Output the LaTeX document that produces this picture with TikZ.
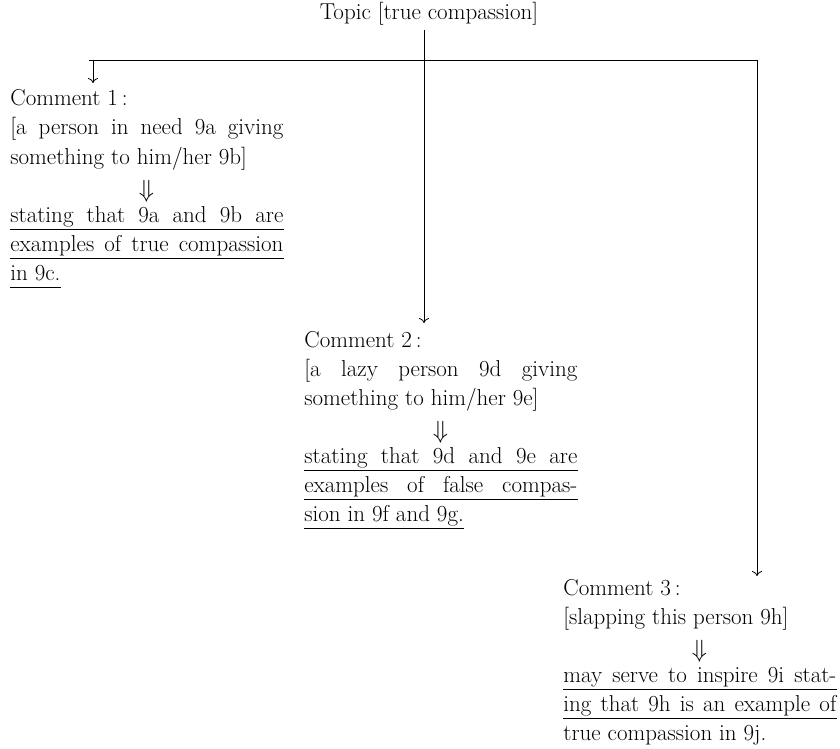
\documentclass[tikz,border=0pt]{standalone}
\usepackage{fontspec}
\usetikzlibrary{positioning,arrows.meta}

\newcommand{\bodysize}{\fontsize{23}{28}\selectfont}
\newlength{\colw}
\setlength{\colw}{273pt}
\newcommand{\jline}[1]{\makebox[\colw][s]{#1}}

\begin{document}
\begin{tikzpicture}[x=1pt, y=-1pt, line width=0.8pt, >={To[length=5pt,width=10pt]},
  txt/.style = {inner sep=0pt, anchor=base west, font=\bodysize, text height=16pt, text depth=6.5pt},
  row/.style = {txt, below=29pt of #1.base west, anchor=base west},
  gap/.style = {txt, below=58pt of #1.base west, anchor=base west},
  impl/.style = {txt, anchor=base}]

      \useasboundingbox (0,0) rectangle (840,749);

      \node[txt, anchor=base] (topic) at (429,20) {Topic [true compassion]};

      % bar and the three arrows
      \coordinate (hub) at (424,60);
      \coordinate (barL) at (89,60);
      \coordinate (barR) at (757,60);
      \coordinate (tip1) at (93,83);
      \coordinate (tip2) at (424,323);
      \coordinate (tip3) at (757,576);

      \draw ([yshift=-3pt]topic.south -| hub) -- (hub);
      \draw (barL) -- (barR);
      \draw[->] (tip1 |- hub) -- (tip1);
      \draw[->] (hub) -- (tip2);
      \draw[->] (barR) -- (tip3);

      % comment 1
      \node[txt] (C_1_a) at (10,106) {Comment 1\,:};
      \node[row=C_1_a] (C_1_b) {\jline{[a person in need 9a giving}};
      \node[row=C_1_b] (C_1_c) {something to him/her 9b]};
      \node[impl] (C_1_d) at ([xshift=136.5pt,yshift=-33pt]C_1_c.base west) {$\Downarrow$};
      \node[gap=C_1_c] (C_1_e) {\jline{stating that 9a and 9b are}};
      \node[row=C_1_e] (C_1_f) {\jline{examples of true compassion}};
      \node[row=C_1_f] (C_1_g) {in 9c.};

      % comment 2
      \node[txt] (C_2_a) at (304,347) {Comment 2\,:};
      \node[row=C_2_a] (C_2_b) {\jline{[a lazy person 9d giving}};
      \node[row=C_2_b] (C_2_c) {something to him/her 9e]};
      \node[impl] (C_2_d) at ([xshift=136.5pt,yshift=-33pt]C_2_c.base west) {$\Downarrow$};
      \node[gap=C_2_c] (C_2_e) {\jline{stating that 9d and 9e are}};
      \node[row=C_2_e] (C_2_f) {\jline{examples of false compas-}};
      \node[row=C_2_f] (C_2_g) {sion in 9f and 9g.};

      % comment 3
      \node[txt] (C_3_a) at (563,595) {Comment 3\,:};
      \node[row=C_3_a] (C_3_b) {[slapping this person 9h]};
      \node[impl] (C_3_d) at ([xshift=136.5pt,yshift=-33pt]C_3_b.base west) {$\Downarrow$};
      \node[gap=C_3_b] (C_3_e) {\jline{may serve to inspire 9i stat-}};
      \node[row=C_3_e] (C_3_f) {\jline{ing that 9h is an example of}};
      \node[row=C_3_f] (C_3_g) {true compassion in 9j.};

      \foreach \ul in {C_1_e, C_1_f, C_1_g, C_2_e, C_2_f, C_2_g, C_3_e, C_3_f}
        \draw[line width=0.6pt] (\ul.south west) -- (\ul.south east);

      \end{tikzpicture}
\end{document}
